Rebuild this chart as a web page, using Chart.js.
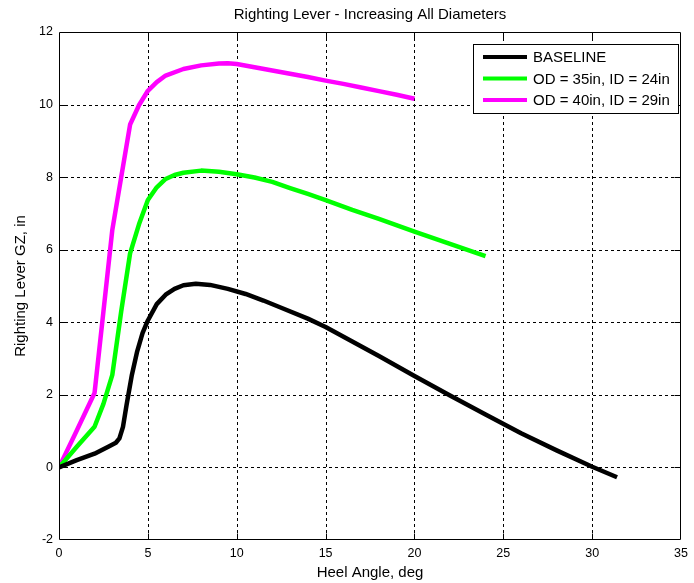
<!DOCTYPE html>
<html>
<head>
<meta charset="utf-8">
<script src="https://cdn.jsdelivr.net/npm/chart.js@4/dist/chart.umd.min.js"></script>
<style>
  html, body { margin: 0; padding: 0; background: #fff; }
  #c { display: block; }
</style>
</head>
<body>
<canvas id="c" width="694" height="583"></canvas>
<script>
// Righting lever GZ (in) versus heel angle (deg)
const baselineAngle = [0, 1, 2, 2.8, 3.2, 3.4, 3.6, 3.8, 4.1, 4.4, 4.7, 5.0, 5.5, 6.0, 6.5, 7.0, 7.7, 8.5, 9.5, 10.5, 11.5, 12.5, 14, 15, 16.5, 18, 20, 22, 24, 26, 28, 30, 31.4];
const baselineGZ    = [0, 0.2, 0.38, 0.58, 0.68, 0.8, 1.12, 1.72, 2.55, 3.2, 3.7, 4.05, 4.5, 4.76, 4.92, 5.02, 5.06, 5.03, 4.92, 4.78, 4.6, 4.4, 4.1, 3.87, 3.47, 3.07, 2.52, 1.98, 1.46, 0.94, 0.47, 0.02, -0.27];

const od35Angle = [0, 1, 2, 2.5, 3, 3.5, 4, 4.5, 5, 5.5, 6, 6.5, 7, 8, 9, 10, 11, 12, 13, 14, 15, 16.5, 18, 20, 22, 24];
const od35GZ    = [0, 0.57, 1.12, 1.75, 2.55, 4.3, 5.9, 6.7, 7.37, 7.72, 7.95, 8.06, 8.12, 8.18, 8.15, 8.08, 7.99, 7.87, 7.7, 7.54, 7.37, 7.1, 6.85, 6.5, 6.16, 5.82];

const od40Angle = [0, 1, 2, 2.5, 3, 3.5, 4, 4.5, 5, 5.5, 6, 7, 8, 9, 9.5, 10, 11, 12, 13, 14, 15, 16, 17, 18, 19, 20];
const od40GZ    = [0, 1.02, 2.05, 4.3, 6.55, 8.0, 9.45, 9.98, 10.38, 10.62, 10.8, 10.98, 11.08, 11.13, 11.14, 11.12, 11.03, 10.94, 10.85, 10.76, 10.66, 10.57, 10.47, 10.37, 10.27, 10.16];

const seriesLabels = ['BASELINE', 'OD = 35in, ID = 24in', 'OD = 40in, ID = 29in'];
const seriesColors = ['#000000', '#00ff00', '#ff00ff'];

const xTicks = [0, 5, 10, 15, 20, 25, 30, 35];
const yTicks = [-2, 0, 2, 4, 6, 8, 10, 12];

const chartTitle = 'Righting Lever - Increasing All Diameters';
const xTitle = 'Heel Angle, deg';
const yTitle = 'Righting Lever GZ, in';

const FONT = "'Liberation Sans', Arial, sans-serif";

function toPoints(xs, ys) {
  return xs.map((v, i) => ({ x: v, y: ys[i] }));
}

const datasets = [
  toPoints(baselineAngle, baselineGZ),
  toPoints(od35Angle, od35GZ),
  toPoints(od40Angle, od40GZ)
].map((pts, i) => ({
  label: seriesLabels[i],
  data: pts,
  borderColor: seriesColors[i],
  backgroundColor: seriesColors[i],
  borderWidth: 4.5,
  pointRadius: 0,
  pointHoverRadius: 0,
  tension: 0,
  fill: false,
  borderJoinStyle: 'round',
  borderCapStyle: 'butt'
}));

// Dotted grid, boxed axes with inward ticks, legend and title
const framePlugin = {
  id: 'frame',
  beforeDatasetsDraw(chart) {
    const { ctx, chartArea: a, scales: { x, y } } = chart;
    ctx.save();
    ctx.strokeStyle = '#000';
    ctx.lineWidth = 1;
    ctx.setLineDash([3, 3]);
    ctx.beginPath();
    x.ticks.forEach(t => {
      if (t.value > x.min && t.value < x.max) {
        const px = Math.round(x.getPixelForValue(t.value)) + 0.5;
        ctx.moveTo(px, a.top);
        ctx.lineTo(px, a.bottom);
      }
    });
    y.ticks.forEach(t => {
      if (t.value > y.min && t.value < y.max) {
        const py = Math.round(y.getPixelForValue(t.value)) + 0.5;
        ctx.moveTo(a.left, py);
        ctx.lineTo(a.right, py);
      }
    });
    ctx.stroke();
    ctx.restore();
  },
  afterDatasetsDraw(chart) {
    const { ctx, chartArea: a, scales: { x, y } } = chart;
    const L = Math.round(a.left) + 0.5, R = Math.round(a.right) - 0.5;
    const T = Math.round(a.top) + 0.5, B = Math.round(a.bottom) - 0.5;
    const tick = 6;
    ctx.save();
    ctx.setLineDash([]);
    ctx.strokeStyle = '#000';
    ctx.lineWidth = 1;
    ctx.beginPath();
    ctx.rect(L, T, R - L, B - T);
    x.ticks.forEach(t => {
      if (t.value > x.min && t.value < x.max) {
        const px = Math.round(x.getPixelForValue(t.value)) + 0.5;
        ctx.moveTo(px, B); ctx.lineTo(px, B - tick);
        ctx.moveTo(px, T); ctx.lineTo(px, T + tick);
      }
    });
    y.ticks.forEach(t => {
      if (t.value > y.min && t.value < y.max) {
        const py = Math.round(y.getPixelForValue(t.value)) + 0.5;
        ctx.moveTo(L, py); ctx.lineTo(L + tick, py);
        ctx.moveTo(R, py); ctx.lineTo(R - tick, py);
      }
    });
    ctx.stroke();

    // legend box
    const bx = Math.round(a.right) - 208 + 0.5;
    const by = Math.round(a.top) + 12 + 0.5;
    const bw = 205, bh = 69;
    ctx.fillStyle = '#fff';
    ctx.fillRect(bx, by, bw, bh);
    ctx.strokeRect(bx, by, bw, bh);
    ctx.font = '15px ' + FONT;
    ctx.textBaseline = 'middle';
    ctx.textAlign = 'left';
    chart.data.datasets.forEach((ds, i) => {
      const ry = by + 12.5 + i * 21.5;
      ctx.strokeStyle = ds.borderColor;
      ctx.lineWidth = 4;
      ctx.beginPath();
      ctx.moveTo(bx + 9.5, ry);
      ctx.lineTo(bx + 53.5, ry);
      ctx.stroke();
      ctx.fillStyle = '#000';
      ctx.fillText(ds.label, bx + 59.5, ry + 1);
    });

    // title
    ctx.font = '15px ' + FONT;
    ctx.textAlign = 'center';
    ctx.textBaseline = 'middle';
    ctx.fillStyle = '#000';
    ctx.fillText(chartTitle, (a.left + a.right) / 2, 15);
    ctx.restore();
  }
};

new Chart(document.getElementById('c'), {
  type: 'line',
  data: { datasets },
  options: {
    responsive: false,
    animation: false,
    events: [],
    layout: { padding: { left: 0, right: 8, top: 32, bottom: 0 } },
    plugins: {
      legend: { display: false },
      title: { display: false },
      tooltip: { enabled: false }
    },
    scales: {
      x: {
        type: 'linear',
        min: xTicks[0],
        max: xTicks[xTicks.length - 1],
        afterBuildTicks: s => { s.ticks = xTicks.map(v => ({ value: v })); },
        afterFit: s => { s.height = 43; },
        grid: { display: false, drawTicks: false },
        border: { display: false },
        ticks: {
          padding: 6,
          color: '#000',
          font: { family: FONT, size: 12.5 },
          maxRotation: 0,
          autoSkip: false
        },
        title: {
          display: true,
          text: xTitle,
          color: '#000',
          font: { family: FONT, size: 15 },
          padding: { top: 0, bottom: 1 }
        }
      },
      y: {
        type: 'linear',
        min: yTicks[0],
        max: yTicks[yTicks.length - 1],
        afterBuildTicks: s => { s.ticks = yTicks.map(v => ({ value: v })); },
        afterFit: s => { s.width = 59; },
        grid: { display: false, drawTicks: false },
        border: { display: false },
        ticks: {
          padding: 6,
          color: '#000',
          font: { family: FONT, size: 12.5 },
          autoSkip: false
        },
        title: {
          display: true,
          text: yTitle,
          color: '#000',
          font: { family: FONT, size: 15 },
          padding: { top: 12, bottom: 0 }
        }
      }
    }
  },
  plugins: [framePlugin]
});
</script>
</body>
</html>
